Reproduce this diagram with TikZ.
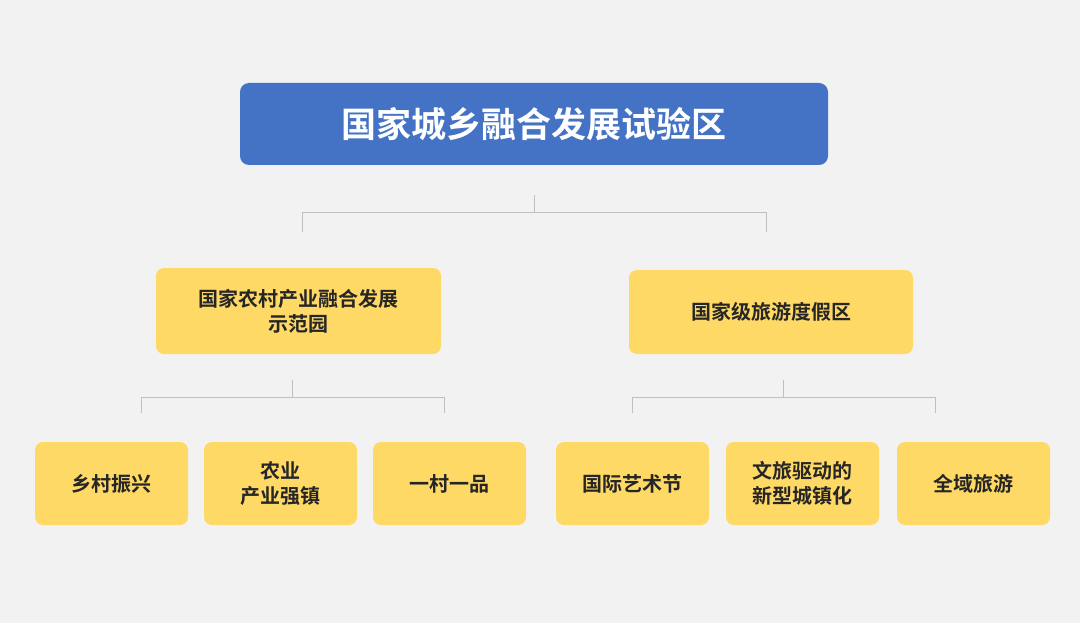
\documentclass[tikz,border=0pt]{standalone}
\usepackage{fontspec}
\setmainfont{Noto Sans CJK SC}[BoldFont={Noto Sans CJK SC Bold}]
\begin{document}
\begin{tikzpicture}[x=1pt,y=-1pt,
  box/.style={fill=ybox,rounded corners=8pt,inner sep=0pt,align=center,font=\bfseries\fontsize{20}{25}\selectfont,text=black!85},
  conn/.style={draw=black!25,line width=1pt}]
\definecolor{bg}{HTML}{F2F2F2}
\definecolor{tblue}{HTML}{4472C4}
\definecolor{ybox}{HTML}{FFD966}
\fill[bg] (0,0) rectangle (1080,623);
\useasboundingbox (0,0) rectangle (1080,623);
\node[fill=tblue,rounded corners=9pt,minimum width=588pt,minimum height=82pt,text=white,font=\bfseries\fontsize{35}{40}\selectfont] (top) at (534,124) {国家城乡融合发展试验区};
\node[box,minimum width=285pt,minimum height=86pt] (L) at (298.5,311) {国家农村产业融合发展\\示范园};
\node[box,minimum width=284pt,minimum height=84pt] (R) at (771,312) {国家级旅游度假区};
\foreach \n/\x/\t in {a/111.5/乡村振兴,b/280.5/{农业\\产业强镇},c/449.5/一村一品,d/632.5/国际艺术节,e/802.5/{文旅驱动的\\新型城镇化},f/973.5/全域旅游}
  \node[box,minimum width=153pt,minimum height=83pt] (\n) at (\x,483.5) {\t};
\coordinate (t1) at (534,195); \coordinate (t2) at (534,213);
\coordinate (tl) at (302,213); \coordinate (tr) at (766,213);
\coordinate (tl2) at (302,232); \coordinate (tr2) at (766,232);
\draw[conn] (t1)--(t2) (tl2)--(tl)--(tr)--(tr2);
\coordinate (l1) at (292,380); \coordinate (l2) at (292,397);
\coordinate (ll) at (141,397); \coordinate (lr) at (444,397);
\coordinate (ll2) at (141,413); \coordinate (lr2) at (444,413);
\draw[conn] (l1)--(l2) (ll2)--(ll)--(lr)--(lr2);
\coordinate (r1) at (783,380); \coordinate (r2) at (783,397);
\coordinate (rl) at (632,397); \coordinate (rr) at (935,397);
\coordinate (rl2) at (632,413); \coordinate (rr2) at (935,413);
\draw[conn] (r1)--(r2) (rl2)--(rl)--(rr)--(rr2);
\end{tikzpicture}
\end{document}
